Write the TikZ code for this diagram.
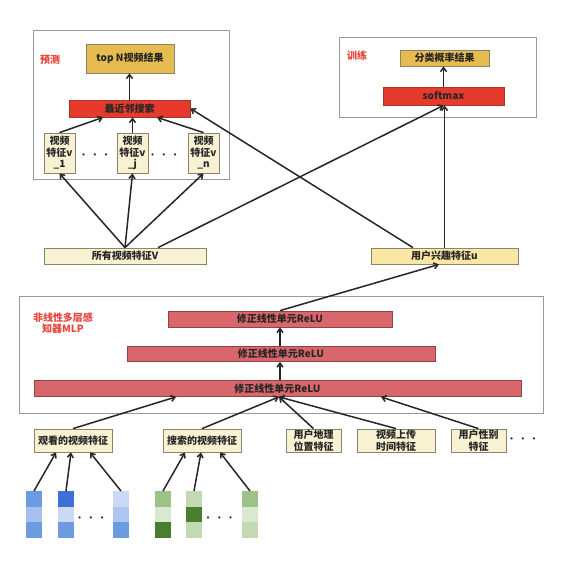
\documentclass[tikz,border=0pt]{standalone}
\usepackage{fontspec}
\setmainfont{Noto Sans CJK SC}
\usepackage{tikz}
\usetikzlibrary{arrows.meta}

\definecolor{FrameGray}{HTML}{9A9A9A}
\definecolor{TagRed}{HTML}{E5453C}
\definecolor{TextDark}{HTML}{262626}
\definecolor{GoldFill}{HTML}{E6BB4F}
\definecolor{RedFill}{HTML}{E63B2C}
\definecolor{RedEdge}{HTML}{A3362B}
\definecolor{CreamFill}{HTML}{F8F1D2}
\definecolor{UserFill}{HTML}{FAE7A6}
\definecolor{ReluFill}{HTML}{D8666B}
\definecolor{ReluEdge}{HTML}{8E4548}
\definecolor{BoxEdge}{HTML}{8A8468}
\definecolor{BlueMid}{HTML}{6D9BE2}
\definecolor{BlueLight}{HTML}{A6C1EE}
\definecolor{BlueLMid}{HTML}{AFC7EF}
\definecolor{BlueDark}{HTML}{3E70D5}
\definecolor{BlueVLight}{HTML}{CBDAF4}
\definecolor{GreenMid}{HTML}{9DC288}
\definecolor{GreenLight}{HTML}{C3D9B4}
\definecolor{GreenVLight}{HTML}{DAE8D1}
\definecolor{GreenDark}{HTML}{4B7D31}

\begin{document}
\begin{tikzpicture}[x=1pt, y=-1pt,
    every node/.style={font=\fontsize{10}{11.5}\selectfont\bfseries, text=TextDark, inner sep=0pt},
    sz/.style 2 args={minimum width=#1pt, minimum height=#2pt},
    frame/.style={draw=FrameGray, line width=1pt},
    tag/.style={text=TagRed},
    goldbox/.style={draw=BoxEdge, line width=0.8pt, fill=GoldFill},
    redbox/.style={draw=RedEdge, line width=0.8pt, fill=RedFill},
    featbox/.style={draw=BoxEdge, line width=0.8pt, fill=CreamFill, align=center},
    userbox/.style={draw=BoxEdge, line width=0.8pt, fill=UserFill},
    relubox/.style={draw=ReluEdge, line width=0.8pt, fill=ReluFill},
    dots/.style={font=\fontsize{14}{14}\selectfont\boldmath},
    arr/.style={-{Straight Barb[length=4pt, width=6pt]}, line width=1.5pt, color=TextDark},
]
            % Setup and bounding box
            \useasboundingbox (0,0) rectangle (584,563);
            \fill [white] (0,0) rectangle (584,563);

            % Prediction
            \draw [frame] (33,30) rectangle (229,179);
            \node (predtag) [tag] at (50,60) {预测};
            \node (topn) [goldbox, sz={88}{29}] at (130,58.5) {top N视频结果};
            \node (search) [redbox, sz={121}{17}] at (129.5,108.5) {最近邻搜索};
            \foreach \nm/\x/\sub in {v1/59.5/1, vj/132.5/j, vn/203.5/n}
                \node (\nm) [featbox, sz={31}{40}] at (\x,153) {视频\\特征v\\\_\sub};
            \node (dots1) [dots] at (95,155) {$\cdot\hspace{3pt}\cdot\hspace{3pt}\cdot$};
            \node (dots2) [dots] at (164,155) {$\cdot\hspace{3pt}\cdot\hspace{3pt}\cdot$};
            \draw [arr] (search.north) -- (search.north |- topn.south);
            \draw [arr] (v1.north) -- ([xshift=-26.5pt]search.south);
            \draw [arr] (vj.north) -- (vj.north |- search.south);
            \draw [arr] (vn.north) -- ([xshift=27.5pt]search.south);

            % Training
            \draw [frame] (339,37) rectangle (536,117);
            \node (traintag) [tag] at (357,56) {训练};
            \node (prob) [goldbox, sz={89}{16}] at (444.5,58) {分类概率结果};
            \node (softmax) [redbox, sz={121}{18}] at (443.5,96) {softmax};
            \draw [arr] (softmax.north) -- (softmax.north |- prob.south);

            % Video and user vectors
            \node (allv) [featbox, sz={162}{16}] at (125,256) {所有视频特征V};
            \node (user) [userbox, sz={147}{16}] at (444.5,256) {用户兴趣特征u};
            \foreach \nm in {v1, vj, vn}
                \draw [arr] (allv.north) -- (\nm.south);
            \draw [arr] ([xshift=33pt]allv.north) -- (softmax.south);
            \draw [arr] ([xshift=-31.5pt]user.north) -- (search.east);
            \draw [arr] (user.north) -- (user.north |- softmax.south);

            % MLP
            \draw [frame] (19,296) rectangle (543,413);
            \node (mlptag) [tag, align=center] at (63,323) {非线性多层感\\知器MLP};
            \node (relu1) [relubox, sz={487}{16}] at (277.5,388.5) {修正线性单元ReLU};
            \node (relu2) [relubox, sz={308}{15}] at (281,354) {修正线性单元ReLU};
            \node (relu3) [relubox, sz={224}{16}] at (280,319) {修正线性单元ReLU};
            \draw [arr] ([xshift=2.5pt]relu1.north) -- ([xshift=-1pt]relu2.south);
            \draw [arr] ([xshift=-1pt]relu2.north) -- (relu3.south);
            \draw [arr] (relu3.north) -- ([xshift=-5.5pt]user.south);

            % Input features
            \foreach \nm/\x/\w/\txt in {watch/73/78/观看的视频特征, query/202/78/搜索的视频特征,
                    geo/313.5/55/{用户地理\\位置特征}, upload/396/78/{视频上传\\时间特征},
                    gender/478.5/55/{用户性别\\特征}}
                \node (\nm) [featbox, sz={\w}{23}] at (\x,440.5) {\txt};
            \node (dots5) [dots] at (523,439) {$\cdot\hspace{3pt}\cdot\hspace{3pt}\cdot$};
            \draw [arr] (watch.north) -- ([xshift=-101.5pt]relu1.south);
            \foreach \nm in {query, geo, upload}
                \draw [arr] (\nm.north) -- ([xshift=1.5pt]relu1.south);
            \draw [arr] (gender.north) -- ([xshift=103.5pt]relu1.south);

            % Embedding columns
            \foreach \nm/\x/\ca/\cb/\cc in {b1/26/BlueMid/BlueLight/BlueMid, b2/58/BlueDark/BlueVLight/BlueMid,
                    b3/113/BlueVLight/BlueLMid/BlueMid, g1/155/GreenMid/GreenVLight/GreenDark,
                    g2/186/GreenLight/GreenDark/GreenLight, g3/242/GreenMid/GreenVLight/GreenLight}
            {
                \fill [\ca] (\x,491) rectangle ++(16,15.7);
                \fill [\cb] (\x,506.7) rectangle ++(16,15.7);
                \fill [\cc] (\x,522.4) rectangle ++(16,15.6);
                \coordinate (\nm) at (\x+8,491);
            }
            \node (dots3) [dots] at (91,518) {$\cdot\hspace{3pt}\cdot\hspace{3pt}\cdot$};
            \node (dots4) [dots] at (219.5,518) {$\cdot\hspace{3pt}\cdot\hspace{3pt}\cdot$};
            \draw [arr] (b1) -- ([xshift=-17pt]watch.south);
            \draw [arr] (b2) -- ([xshift=-2pt]watch.south);
            \draw [arr] (b3) -- ([xshift=17pt]watch.south);
            \draw [arr] (g1) -- ([xshift=-17pt]query.south);
            \draw [arr] (g2) -- ([xshift=-1pt]query.south);
            \draw [arr] (g3) -- ([xshift=18pt]query.south);
\end{tikzpicture}
\end{document}
